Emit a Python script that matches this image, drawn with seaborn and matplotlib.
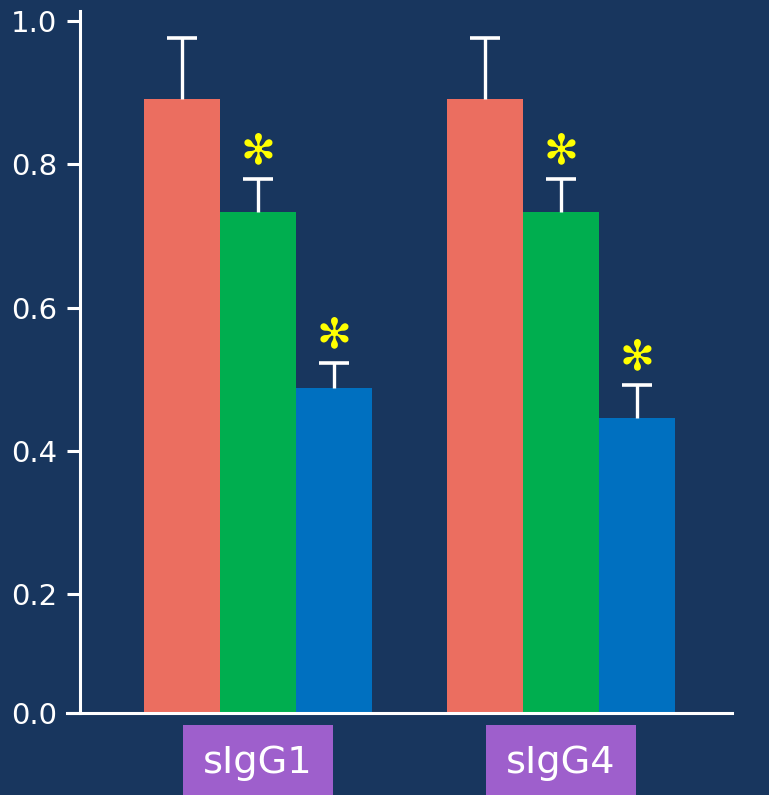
import matplotlib
matplotlib.use("Agg")
import matplotlib.pyplot as plt
import numpy as np
import pandas as pd
import seaborn as sns

# Antibody subclasses on the x axis and the three conditions per subclass
groups = ["sIgG1", "sIgG4"]
conditions = ["Condition A", "Condition B", "Condition C"]

# Mean values and upper error (SD) for each condition
means_sigg1 = [0.891, 0.734, 0.488]
means_sigg4 = [0.891, 0.734, 0.446]
err_sigg1 = [0.085, 0.045, 0.035]
err_sigg4 = [0.085, 0.045, 0.046]
# Significance marks per condition
signif_sigg1 = [False, True, True]
signif_sigg4 = [False, True, True]

ytick_values = [0.2, 0.4, 0.6, 0.8, 1.0]
ytick_labels = ["0.0", "0.2", "0.4", "0.6", "0.8", "1.0"]

BG = "#18365e"
palette = ["#eb6e60", "#00ae4f", "#0070c0"]
BOX = "#9e5fcc"

df = pd.DataFrame({
    "group": np.repeat(groups, len(conditions)),
    "condition": conditions * len(groups),
    "value": means_sigg1 + means_sigg4,
})
errs = err_sigg1 + err_sigg4
signif = signif_sigg1 + signif_sigg4

sns.set_theme(style="white")
plt.rcParams["font.family"] = ["DejaVu Sans"]

fig = plt.figure(figsize=(7.69, 7.95), dpi=100, facecolor=BG)
ax = fig.add_axes([67 / 769, 82 / 795, 665 / 769, 702 / 795])
ax.set_facecolor(BG)

sns.barplot(data=df, x="group", y="value", hue="condition", order=groups,
            hue_order=conditions, palette=palette, width=0.753, gap=0,
            errorbar=None, saturation=1, legend=False, ax=ax, linewidth=0)

ybot = 0.034
ax.set_xlim(-0.6304, 1.5644)
ax.set_ylim(ybot, 1.014)

# Error bars (upper only) and significance marks, placed at each bar
bars = sorted(ax.patches, key=lambda p: p.get_x())
order_vals = [v for v in df["value"]]
for bar, val, e, s in zip(bars, order_vals, errs, signif):
    xc = bar.get_x() + bar.get_width() / 2
    top = val + e
    ax.vlines(xc, val, top, color="white", lw=2.4, zorder=3)
    ax.plot([xc], [top], marker="_", markersize=21.6, mew=2.6,
            color="white", zorder=3)
    if s:
        ax.annotate("\u273b", xy=(xc, top), xytext=(0, 20),
                    textcoords="offset points", ha="center", va="center",
                    color="#ffff00", fontsize=30, zorder=4)

# Axis styling
for side in ["top", "right"]:
    ax.spines[side].set_visible(False)
for side in ["left", "bottom"]:
    ax.spines[side].set_color("white")
    ax.spines[side].set_linewidth(2.2)
ax.spines["left"].set_position(("data", -0.5875))

ax.set_yticks([ybot] + ytick_values)
ax.set_yticklabels(ytick_labels)
ax.tick_params(axis="y", colors="white", length=9.5, width=2.2, pad=7,
               labelsize=21, left=True, direction="out")
ax.tick_params(axis="x", length=0, pad=23)
ax.set_xticks(range(len(groups)))
ax.set_xticklabels(groups, fontsize=27.5, color="white")
for lbl in ax.get_xticklabels():
    lbl.set_bbox(dict(facecolor=BOX, edgecolor="none", pad=14.4))
ax.set_xlabel("")
ax.set_ylabel("")

fig.savefig("out.png", dpi=100, facecolor=BG)
